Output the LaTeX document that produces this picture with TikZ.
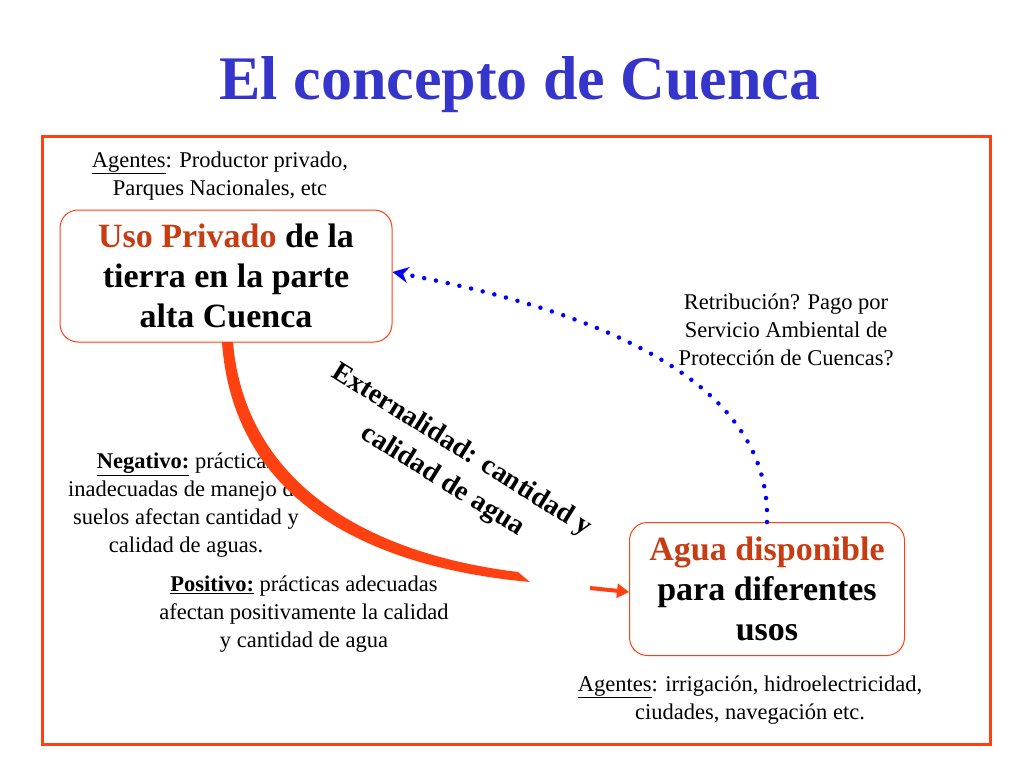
\documentclass[tikz,border=0pt]{standalone}
\usepackage{fontspec}
\setmainfont{Liberation Serif}
\usetikzlibrary{arrows.meta}
\definecolor{ttl}{HTML}{3535CC}
\definecolor{fr}{HTML}{FF4010}
\definecolor{dk}{HTML}{C83C14}
\begin{document}
\begin{tikzpicture}[x=1pt,y=-1pt,
  txt/.style={align=center,font=\fontsize{22.5}{28}\selectfont,inner sep=0pt},
  bx/.style={draw=fr,line width=1pt,rounded corners=18pt,align=center,font=\fontsize{34}{40}\selectfont\bfseries,inner sep=0pt}]
\useasboundingbox (0,0) rectangle (1024,768);
\node[font=\fontsize{62}{66}\selectfont\bfseries,text=ttl] (title) at (520,85) {El concepto de Cuenca};
\draw[fr,line width=3pt] (42,136) rectangle (990,744);
\node[txt] (ag1) at (220,176) {\underline{Agentes}: Productor privado,\\Parques Nacionales, etc};
\node[bx,minimum width=332pt,minimum height=132pt] (uso) at (226,276) {\textcolor{dk}{Uso Privado} de la\\tierra en la parte\\alta Cuenca};
\node[bx,minimum width=275pt,minimum height=133pt] (agua) at (767,589) {\textcolor{dk}{Agua disponible}\\para diferentes\\usos};
\node[txt] (ret) at (786,330) {Retribución? Pago por\\Servicio Ambiental de\\Protección de Cuencas?};
\node[txt] (neg) at (186,505) {\underline{\textbf{Negativo:}} prácticas\\inadecuadas de manejo de\\suelos afectan cantidad y\\calidad de aguas.};
\node[txt] (pos) at (304,614) {\underline{\textbf{Positivo:}} prácticas adecuadas\\afectan positivamente la calidad\\y cantidad de agua};
\node[txt] (ag2) at (750,700) {\underline{Agentes}: irrigación, hidroelectricidad,\\ciudades, navegación etc.};
\node[align=center,font=\fontsize{28}{36}\selectfont\bfseries,rotate=-32,inner sep=0pt] (ext) at (452,466) {Externalidad: cantidad y\\calidad de agua};
% red tapered curve
\coordinate (c0) at (226,342);
\coordinate (c1) at (530,582);
\fill[fr] (222,342) .. controls (232,485) and (345,565) .. (530,582)
  -- (518,572) .. controls (355,552) and (244,475) .. (233,342) -- cycle;
\coordinate (s0) at (590,588);
\draw[fr,line width=4pt,-{Triangle[length=12pt,width=14pt]}] (s0) -- (agua.west |- 0,592);
% blue dotted
\draw[blue,line width=4.5pt,line cap=round,dash pattern=on 0pt off 12pt,-{Stealth[length=16pt,width=16pt,line cap=butt]}]
  (agua.north) .. controls (770,430) and (700,330) .. (uso.east |- 0,272);
\end{tikzpicture}
\end{document}
